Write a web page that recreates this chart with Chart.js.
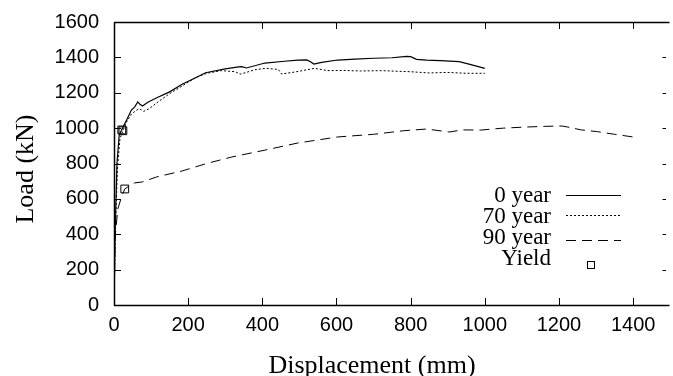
<!DOCTYPE html>
<html>
<head>
<meta charset="utf-8">
<script src="https://cdn.jsdelivr.net/npm/chart.js@4.4.0/dist/chart.umd.min.js"></script>
<style>
html, body { margin: 0; padding: 0; overflow: hidden; background: #fff; }
#wrap { width: 673px; height: 376px; }
</style>
</head>
<body>
<div id="wrap"><canvas id="loadChart" width="673" height="376"></canvas></div>
<script>
// load-displacement curves, values
const year0X = [0, 3, 8, 14, 23, 34, 47, 56, 64, 70, 77, 90, 114, 150, 185, 220, 247, 300, 336, 345, 357, 407, 460, 496, 520, 531, 539, 560, 603, 650, 700, 750, 789, 800, 816, 843, 880, 931, 960, 1000];
const year0Y = [0, 400, 800, 960, 1000, 1046, 1102, 1120, 1148, 1135, 1125, 1145, 1170, 1205, 1250, 1285, 1313, 1335, 1346, 1348, 1340, 1368, 1378, 1385, 1386, 1374, 1362, 1372, 1385, 1390, 1395, 1398, 1406, 1404, 1389, 1385, 1382, 1376, 1360, 1338];

const year70X = [0, 3, 9, 16, 24, 34, 47, 60, 68, 80, 95, 120, 150, 185, 220, 250, 290, 327, 340, 349, 380, 408, 443, 452, 490, 541, 576, 620, 665, 720, 798, 850, 900, 950, 1000];
const year70Y = [0, 380, 760, 940, 985, 1035, 1080, 1100, 1110, 1095, 1110, 1150, 1195, 1240, 1285, 1310, 1325, 1319, 1305, 1310, 1330, 1338, 1332, 1306, 1318, 1338, 1325, 1326, 1323, 1325, 1319, 1312, 1315, 1310, 1310];

const year90X = [0, 3, 10, 20, 29, 40, 55, 77, 115, 184, 250, 318, 408, 496, 603, 700, 780, 843, 904, 940, 989, 1050, 1109, 1160, 1208, 1224, 1260, 1304, 1350, 1400];
const year90Y = [0, 380, 540, 610, 656, 672, 690, 696, 724, 758, 800, 837, 876, 916, 950, 965, 985, 995, 978, 990, 989, 1000, 1006, 1010, 1012, 1006, 990, 980, 965, 950];

const yieldX = [21, 24, 29];
const yieldY = [990, 985, 656];

const xTicks = [0, 200, 400, 600, 800, 1000, 1200, 1400];
const yTicks = [0, 200, 400, 600, 800, 1000, 1200, 1400, 1600];

const legendNames = ['0 year', '70 year', '90 year', 'Yield'];

const pairs = (xs, ys) => xs.map((x, i) => ({ x: x, y: ys[i] }));
const SANS = '"Liberation Sans", Arial, sans-serif';
const SERIF = '"Liberation Serif", "Times New Roman", serif';

const frameAndTicks = {
  id: 'frameAndTicks',
  afterDatasetsDraw(chart) {
    const { ctx, chartArea: a, scales } = chart;
    ctx.save();
    ctx.strokeStyle = '#000';
    ctx.lineWidth = 1.5;
    // left, bottom, top edges as separate strokes; right edge lies off the picture
    ctx.beginPath();
    ctx.moveTo(a.left + 0.5, a.top + 0.5); ctx.lineTo(a.right + 3, a.top + 0.5);
    ctx.moveTo(a.left + 0.5, a.top); ctx.lineTo(a.left + 0.5, a.bottom + 1);
    ctx.moveTo(a.left, a.bottom + 0.5); ctx.lineTo(a.right + 3, a.bottom + 0.5);
    ctx.stroke();
    ctx.lineWidth = 1;
    ctx.beginPath();
    xTicks.forEach(v => {
      const px = Math.round(scales.x.getPixelForValue(v)) + 0.5;
      ctx.moveTo(px, a.bottom); ctx.lineTo(px, a.bottom - 7);
      ctx.moveTo(px, a.top); ctx.lineTo(px, a.top + 7);
    });
    yTicks.forEach(v => {
      const py = Math.round(scales.y.getPixelForValue(v)) + 0.5;
      ctx.moveTo(a.left, py); ctx.lineTo(a.left + 7, py);
      ctx.moveTo(a.right - 4, py); ctx.lineTo(a.right - 0.5, py);
    });
    ctx.stroke();
    ctx.restore();
  },
  afterDraw(chart) {
    const { ctx } = chart;
    ctx.save();
    ctx.fillStyle = '#000';
    // axis titles
    ctx.font = '26px ' + SERIF;
    ctx.textAlign = 'center';
    ctx.textBaseline = 'alphabetic';
    ctx.fillText('Displacement (mm)', 372, 373);
    ctx.translate(33, 169);
    ctx.rotate(-Math.PI / 2);
    ctx.fillText('Load (kN)', 0, 0);
    ctx.restore();

    // key
    ctx.save();
    ctx.font = '23px ' + SERIF;
    ctx.textAlign = 'right';
    ctx.fillStyle = '#000';
    const baselines = [202, 223, 244, 265];
    const sampleY = [195, 215, 240, 265];
    legendNames.forEach((name, i) => {
      ctx.fillText(name, 551, baselines[i]);
      const ds = chart.data.datasets[i];
      ctx.strokeStyle = '#000';
      ctx.lineWidth = 1;
      if (i < 3) {
        ctx.setLineDash(ds.borderDash || []);
        ctx.beginPath();
        ctx.moveTo(566, sampleY[i] + 0.5);
        ctx.lineTo(621, sampleY[i] + 0.5);
        ctx.stroke();
        ctx.setLineDash([]);
      } else {
        ctx.strokeRect(587.5, sampleY[i] - 3.5, 7, 7);
      }
    });
    ctx.restore();
  }
};

new Chart(document.getElementById('loadChart'), {
  type: 'scatter',
  data: {
    datasets: [
      { label: legendNames[0], data: pairs(year0X, year0Y), showLine: true, borderColor: '#000', borderWidth: 1.2, pointRadius: 0, borderDash: [] },
      { label: legendNames[1], data: pairs(year70X, year70Y), showLine: true, borderColor: '#000', borderWidth: 1, pointRadius: 0, borderDash: [2, 2] },
      { label: legendNames[2], data: pairs(year90X, year90Y), showLine: true, borderColor: '#000', borderWidth: 1, pointRadius: 0, borderDash: [10, 6] },
      { label: legendNames[3], data: pairs(yieldX, yieldY), showLine: false, borderColor: '#000', borderWidth: 1, backgroundColor: 'rgba(0,0,0,0)', pointStyle: 'rect', pointRadius: 5.5 }
    ]
  },
  options: {
    responsive: false,
    animation: false,
    layout: { padding: { top: 22, right: 0, left: 0, bottom: 0 } },
    plugins: { legend: { display: false }, tooltip: { enabled: false } },
    scales: {
      x: {
        type: 'linear', min: 0, max: 1490, position: 'bottom',
        grid: { display: false, drawTicks: false },
        border: { display: false },
        ticks: { padding: 8, maxRotation: 0, autoSkip: false, color: '#000', font: { family: SANS, size: 20 }, callback: v => String(v) },
        afterBuildTicks(scale) { scale.ticks = xTicks.map(v => ({ value: v })); },
        afterFit(scale) { scale.height = 71; scale.paddingLeft = 0; scale.paddingRight = 0; }
      },
      y: {
        type: 'linear', min: 0, max: 1600,
        grid: { display: false, drawTicks: false },
        border: { display: false },
        ticks: { padding: 15, color: '#000', font: { family: SANS, size: 20 }, callback: v => String(v) },
        afterBuildTicks(scale) { scale.ticks = yTicks.map(v => ({ value: v })); },
        afterFit(scale) { scale.width = 114; scale.paddingTop = 0; scale.paddingBottom = 0; }
      }
    }
  },
  plugins: [frameAndTicks]
});
</script>
</body>
</html>
